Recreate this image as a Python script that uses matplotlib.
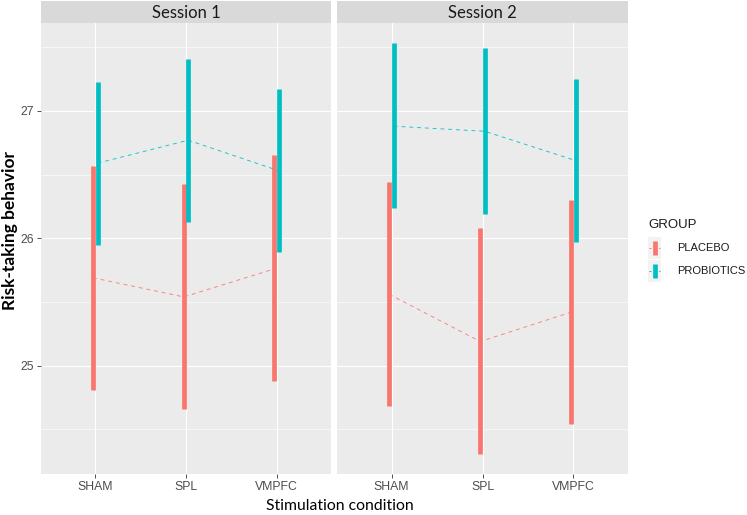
import matplotlib
matplotlib.use("Agg")
import matplotlib.pyplot as plt
from matplotlib.lines import Line2D
from matplotlib.patches import Rectangle
import numpy as np

# ---- data ----
categories = ["SHAM", "SPL", "VMPFC"]
sessions = ["Session 1", "Session 2"]
groups = ["PLACEBO", "PROBIOTICS"]

# Session 1
s1_placebo_mean = [25.69, 25.54, 25.76]
s1_placebo_low = [24.81, 24.66, 24.88]
s1_placebo_high = [26.57, 26.43, 26.65]
s1_probio_mean = [26.59, 26.77, 26.53]
s1_probio_low = [25.95, 26.13, 25.89]
s1_probio_high = [27.23, 27.41, 27.17]

# Session 2
s2_placebo_mean = [25.56, 25.19, 25.42]
s2_placebo_low = [24.68, 24.31, 24.54]
s2_placebo_high = [26.44, 26.08, 26.30]
s2_probio_mean = [26.88, 26.84, 26.61]
s2_probio_low = [26.24, 26.19, 25.97]
s2_probio_high = [27.53, 27.49, 27.25]

yticks = [25, 26, 27]
colors = {"PLACEBO": "#F8766D", "PROBIOTICS": "#00BFC4"}

data = {
    "Session 1": {
        "PLACEBO": (s1_placebo_mean, s1_placebo_low, s1_placebo_high),
        "PROBIOTICS": (s1_probio_mean, s1_probio_low, s1_probio_high),
    },
    "Session 2": {
        "PLACEBO": (s2_placebo_mean, s2_placebo_low, s2_placebo_high),
        "PROBIOTICS": (s2_probio_mean, s2_probio_low, s2_probio_high),
    },
}

W, H = 747, 515
fig = plt.figure(figsize=(W / 100, H / 100), dpi=100)
fig.patch.set_facecolor("white")

def fx(px):
    return px / W

def fy(py):
    return 1 - py / H

panel_px = [(41, 331), (337, 628)]
ptop, pbot = 23, 474
strip_top = 1

ylim = (24.15, 27.69)
dodge = {"PLACEBO": -0.025, "PROBIOTICS": 0.025}
x = np.arange(1, len(categories) + 1)

title_font = ["Lato", "DejaVu Sans"]
tick_font = ["Liberation Sans", "DejaVu Sans"]

for i, (sess, (x0, x1)) in enumerate(zip(sessions, panel_px)):
    ax = fig.add_axes([fx(x0), fy(pbot), fx(x1 - x0), (pbot - ptop) / H])
    ax.set_facecolor("#EBEBEB")
    for s in ax.spines.values():
        s.set_visible(False)
    ax.set_xlim(0.4, 3.6)
    ax.set_ylim(*ylim)
    ax.set_xticks(x)
    ax.set_yticks(yticks)
    ax.set_yticks([24.5, 25.5, 26.5, 27.5], minor=True)
    ax.set_xticklabels(categories, fontfamily=tick_font, fontsize=8.8, color="#4D4D4D")
    ax.grid(True, which="major", color="white", lw=0.8)
    ax.grid(True, which="minor", axis="y", color="white", lw=0.4)
    ax.set_axisbelow(True)
    ax.tick_params(axis="x", length=3, color="#333333", width=0.6, pad=2)
    ax.tick_params(axis="y", which="minor", length=0)
    if i == 0:
        ax.set_yticklabels([str(t) for t in yticks], fontfamily=tick_font,
                           fontsize=8.8, color="#4D4D4D")
        ax.tick_params(axis="y", length=3, color="#333333", width=0.6, pad=2)
    else:
        ax.tick_params(axis="y", length=0, labelleft=False)

    for g in groups:
        m, lo, hi = data[sess][g]
        xs = x + dodge[g]
        ax.plot(xs, m, ls=(0, (4, 4)), color=colors[g], lw=0.7, alpha=0.85)
        ax.vlines(xs, lo, hi, color=colors[g], lw=3.4, capstyle="butt")

    # strip
    sax = fig.add_axes([fx(x0), fy(ptop), fx(x1 - x0), (ptop - strip_top) / H])
    sax.set_facecolor("#D9D9D9")
    for s in sax.spines.values():
        s.set_visible(False)
    sax.set_xticks([])
    sax.set_yticks([])
    sax.text(0.5, 0.45, sess, ha="center", va="center", fontsize=12,
             color="#1A1A1A", fontfamily=title_font, transform=sax.transAxes)

# axis titles
fig.text(fx(10), fy(230), "Risk-taking behavior", rotation=90, ha="center",
         va="center", fontsize=12.5, fontweight="bold", fontfamily=title_font)
fig.text(fx(340), fy(506), "Stimulation condition", ha="center", va="center",
         fontsize=11.3, fontfamily=title_font)

# legend (manual)
fig.text(fx(648), fy(225), "GROUP", ha="left", va="center", fontsize=9.5,
         fontfamily=tick_font, color="#1A1A1A")
key_rows = [248, 271]
for g, ky in zip(groups, key_rows):
    fig.patches.append(Rectangle((fx(648), fy(ky + 11)), fx(13), 22 / H,
                                 transform=fig.transFigure, facecolor="#F2F2F2",
                                 edgecolor="none"))
    fig.lines.append(Line2D([fx(649), fx(660)], [fy(ky), fy(ky)],
                            transform=fig.transFigure, color=colors[g], lw=0.7,
                            ls=(0, (2, 3))))
    fig.lines.append(Line2D([fx(654.5), fx(654.5)], [fy(ky - 7), fy(ky + 7)],
                            transform=fig.transFigure, color=colors[g], lw=3.4,
                            solid_capstyle="butt"))
    fig.text(fx(677), fy(ky), g, ha="left", va="center", fontsize=8,
             fontfamily=tick_font, color="#1A1A1A")

fig.savefig("out.png", dpi=100, facecolor="white")
